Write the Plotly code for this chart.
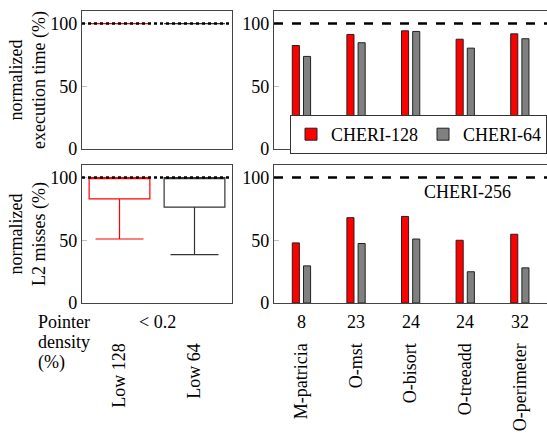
import plotly.graph_objects as go

# ---- data ----
low_cats = ["Low 128", "Low 64"]
low_colors = ["#ff0000", "#333333"]
# execution time boxes (all at 100)
exec_q1 = [100, 100]
exec_med = [100, 100]
exec_q3 = [100, 100]
exec_lo = [100, 100]
exec_hi = [100, 100]
# L2 misses boxes
l2_q1 = [83, 76.5]
l2_med = [100, 100]
l2_q3 = [100, 100]
l2_lo = [51, 38.5]
l2_hi = [100, 100]

benchmarks = ["M-patricia", "O-mst", "O-bisort", "O-treeadd", "O-perimeter"]
pointer_density = ["8", "23", "24", "24", "32"]
exec_128 = [82.5, 91.3, 94.2, 87.5, 91.8]
exec_64 = [73.8, 84.7, 93.7, 80.4, 87.9]
l2_128 = [47.9, 68, 69, 50, 54.8]
l2_64 = [29.6, 47.4, 51, 24.9, 28]

FONT = "Liberation Serif"
FS = 18

fig = go.Figure()

# boxes
for i, c in enumerate(low_cats):
    for (q1, md, q3, lo, hi, xa, ya) in [
        (exec_q1, exec_med, exec_q3, exec_lo, exec_hi, "x", "y"),
        (l2_q1, l2_med, l2_q3, l2_lo, l2_hi, "x3", "y3"),
    ]:
        fig.add_trace(go.Box(
            x=[c], q1=[q1[i]], median=[md[i]], q3=[q3[i]],
            lowerfence=[lo[i]], upperfence=[hi[i]],
            width=0.81, whiskerwidth=0.79,
            line=dict(color=low_colors[i], width=1.2),
            fillcolor="rgba(255,255,255,0)",
            xaxis=xa, yaxis=ya, showlegend=False, boxpoints=False,
        ))

# bars
for vals128, vals64, xa, ya, sl in [
    (exec_128, exec_64, "x2", "y2", True),
    (l2_128, l2_64, "x4", "y4", False),
]:
    fig.add_trace(go.Bar(
        x=benchmarks, y=vals128, width=0.13, offset=-0.165,
        marker=dict(color="#ff0000", line=dict(color="#222", width=1)),
        name="CHERI-128", xaxis=xa, yaxis=ya, showlegend=sl,
    ))
    fig.add_trace(go.Bar(
        x=benchmarks, y=vals64, width=0.13, offset=0.04,
        marker=dict(color="#808080", line=dict(color="#222", width=1)),
        name="CHERI-64", xaxis=xa, yaxis=ya, showlegend=sl,
    ))

axis_common = dict(
    showline=True, linecolor="#444", linewidth=1.2, mirror=True,
    showgrid=False, zeroline=False, automargin=False,
)
yax = dict(axis_common, range=[0, 110], tickvals=[0, 50, 100],
           ticks="inside", ticklen=5, tickcolor="#c0c0c0",
           tickfont=dict(family=FONT, size=FS, color="black"))

yt = 1 - 11 / 439
yb = 1 - 149 / 439
yt2 = 1 - 165 / 439
yb2 = 1 - 303 / 439
lx = [82 / 547, 232 / 547]
rx = [274 / 547, 1.0]

fig.update_layout(
    width=547, height=439,
    margin=dict(l=0, r=0, t=0, b=0),
    paper_bgcolor="white", plot_bgcolor="white",
    barmode="overlay",
    font=dict(family=FONT, size=FS, color="black"),
    xaxis=dict(axis_common, domain=lx, anchor="y", range=[-0.5, 1.5],
               categoryorder="array", categoryarray=low_cats, showticklabels=False),
    xaxis2=dict(axis_common, domain=rx, anchor="y2", range=[-0.5, 4.5],
                categoryorder="array", categoryarray=benchmarks, showticklabels=False),
    xaxis3=dict(axis_common, domain=lx, anchor="y3", range=[-0.5, 1.5],
                categoryorder="array", categoryarray=low_cats,
                tickangle=-90, ticklabelstandoff=32,
                tickfont=dict(family=FONT, size=FS)),
    xaxis4=dict(axis_common, domain=rx, anchor="y4", range=[-0.5, 4.5],
                categoryorder="array", categoryarray=benchmarks,
                tickangle=-90, ticklabelstandoff=32,
                tickfont=dict(family=FONT, size=FS)),
    yaxis=dict(yax, domain=[yb, yt], anchor="x"),
    yaxis2=dict(yax, domain=[yb, yt], anchor="x2"),
    yaxis3=dict(yax, domain=[yb2, yt2], anchor="x3"),
    yaxis4=dict(yax, domain=[yb2, yt2], anchor="x4"),
    legend=dict(
        orientation="h", x=1.0, y=1 - 115 / 439, xanchor="right", yanchor="top",
        bordercolor="#333", borderwidth=1, bgcolor="white",
        font=dict(family=FONT, size=FS), itemwidth=30,
    ),
)

# reference lines at 100
for xr, yr, dash in [("x", "y", "dot"), ("x3", "y3", "dot"),
                     ("x2", "y2", "dash"), ("x4", "y4", "dash")]:
    fig.add_shape(type="line", xref=f"{xr} domain", yref=yr, x0=0, x1=1, y0=100, y1=100,
                  line=dict(color="black", width=2.5, dash=dash))

# y titles
for text, yc in [("normalized<br>execution time (%)", (yb + yt) / 2),
                 ("normalized<br>L2 misses (%)", (yb2 + yt2) / 2)]:
    fig.add_annotation(text=text, xref="paper", yref="paper", x=28 / 547, y=yc,
                       xanchor="center", yanchor="middle",
                       textangle=-90, showarrow=False, font=dict(family=FONT, size=FS))

# pointer density row
ypd = 1 - 322 / 439
for line, ypx in [("Pointer", 322), ("density", 342), ("(%)", 362)]:
    fig.add_annotation(text=line, xref="paper", yref="paper",
                       x=37 / 547, y=1 - ypx / 439, xanchor="left", yanchor="middle",
                       showarrow=False, font=dict(family=FONT, size=FS), borderpad=0)
fig.add_annotation(text="&lt; 0.2", xref="x3", yref="paper", x=0.5, y=ypd,
                   xanchor="center", yanchor="middle",
                   showarrow=False, font=dict(family=FONT, size=FS))
for b, pdv in zip(benchmarks, pointer_density):
    fig.add_annotation(text=pdv, xref="x4", yref="paper", x=b, y=ypd,
                       xanchor="center", yanchor="middle",
                       showarrow=False, font=dict(family=FONT, size=FS))

fig.add_annotation(text="CHERI-256", xref="paper", yref="paper", x=467 / 547, y=1 - 192 / 439,
                   xanchor="center", yanchor="middle",
                   showarrow=False, font=dict(family=FONT, size=FS))

fig.write_html("out.html")
